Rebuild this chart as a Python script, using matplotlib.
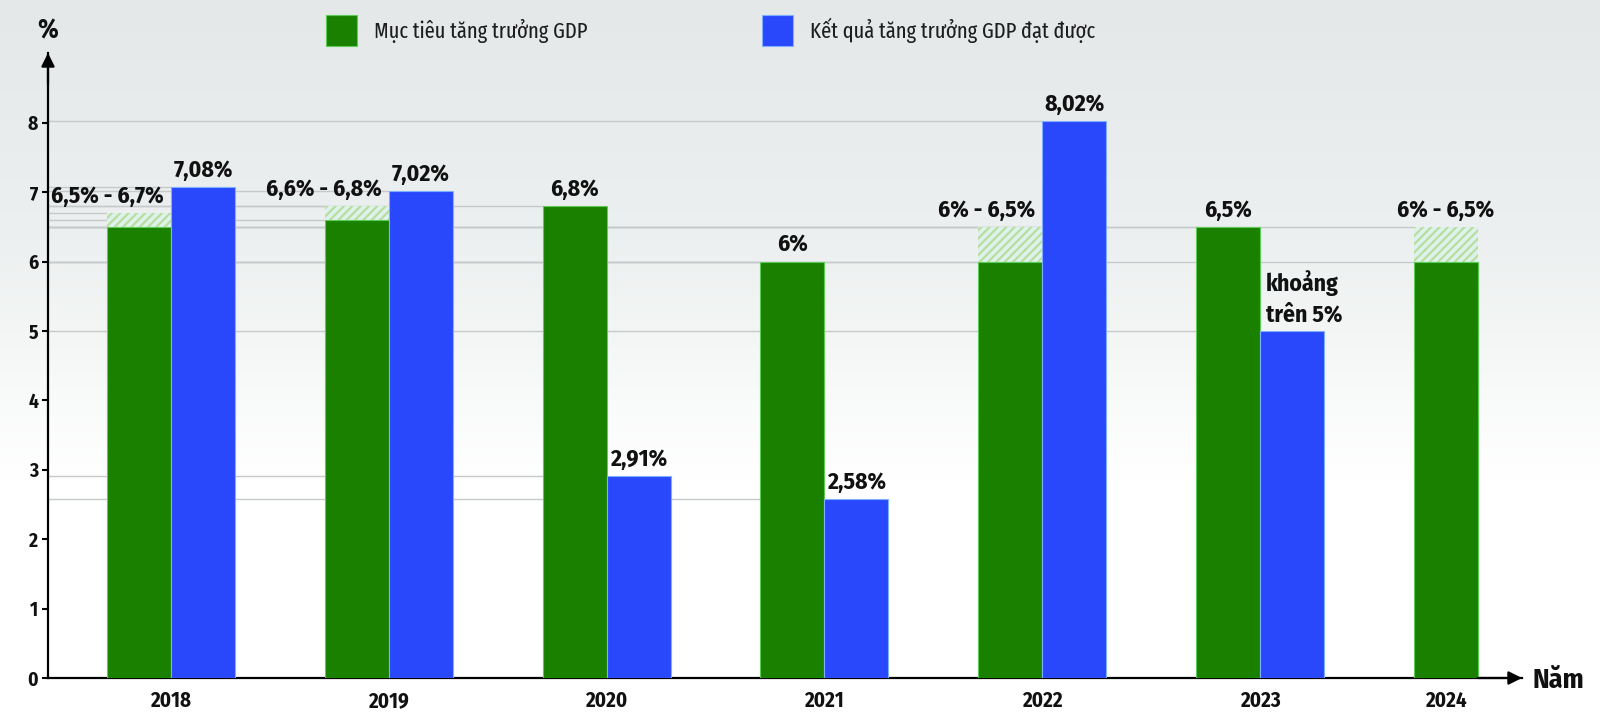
import numpy as np
import matplotlib
matplotlib.use('Agg')
import matplotlib.pyplot as plt
from matplotlib.colors import LinearSegmentedColormap

# Data
years = ['2018', '2019', '2020', '2021', '2022', '2023', '2024']
target_low = [6.5, 6.6, 6.8, 6.0, 6.0, 6.5, 6.0]
target_high = [6.7, 6.8, 6.8, 6.0, 6.5, 6.5, 6.5]
actual = [7.08, 7.02, 2.91, 2.58, 8.02, 5.0, np.nan]
target_labels = ['6,5% - 6,7%', '6,6% - 6,8%', '6,8%', '6%', '6% - 6,5%', '6,5%', '6% - 6,5%']
actual_labels = ['7,08%', '7,02%', '2,91%', '2,58%', '8,02%', 'khoảng\ntrên 5%', '']
legend_labels = ['Mục tiêu tăng trưởng GDP', 'Kết quả tăng trưởng GDP đạt được']
y_ticks = [0, 1, 2, 3, 4, 5, 6, 7, 8]

GREEN = '#1a8100'
BLUE = '#2947fb'
RANGE_FILL = '#dcf3ec'
RANGE_HATCH = '#bcdc9f'
REF_LINE = '#c6caca'
TXT = '#111111'

plt.rcParams['font.family'] = ['Fira Sans Condensed', 'DejaVu Sans']
plt.rcParams['hatch.linewidth'] = 1.6

fig = plt.figure(figsize=(16, 7.21), dpi=100)

# background gradient
bg = fig.add_axes([0, 0, 1, 1], zorder=0)
grad = np.linspace(0, 1, 256).reshape(-1, 1)
cmap = LinearSegmentedColormap.from_list('bg', ['#e4e8e8', '#edf0f0', '#ffffff', '#ffffff'])
bg.imshow(grad, aspect='auto', cmap=cmap, extent=[0, 1, 0, 1])
bg.axis('off')

ax = fig.add_axes([0.03, 43 / 721, 0.92125, 625 / 721], zorder=1)
ax.set_facecolor('none')

x = np.arange(len(years))
w = 0.294
low = np.array(target_low)
high = np.array(target_high)
act = np.array(actual)
has_act = ~np.isnan(act)

ax.set_xlim(-0.5647, 6.203)
ax.set_ylim(0, 9.006)
x0 = ax.get_xlim()[0]

# reference lines from the axis to each bar
for i in range(len(years)):
    for lv in set([low[i], high[i]]):
        ax.hlines(lv, x0, x[i] - w, color=REF_LINE, lw=1, zorder=1)
    if has_act[i]:
        ax.hlines(act[i], x0, x[i], color=REF_LINE, lw=1, zorder=1)

green = ax.bar(x - w / 2, low, w, color=GREEN, edgecolor='#5fcb57', linewidth=0.8, zorder=3)
ax.bar(x - w / 2, high - low, w, bottom=low, color=RANGE_FILL, linewidth=0, zorder=2)
ax.bar(x - w / 2, high - low, w, bottom=low, facecolor='none', edgecolor=RANGE_HATCH,
       hatch='////', linewidth=0, zorder=2)
blue = ax.bar(x[has_act] + w / 2, act[has_act], w, color=BLUE, edgecolor='#7fb0ff',
              linewidth=0.8, zorder=3)

# value labels
lab_kw = dict(textcoords='offset pixels', va='baseline', fontsize=17, fontweight='bold', color=TXT)
for i in range(len(years)):
    if high[i] > low[i] and has_act[i]:
        ax.annotate(target_labels[i], (x[i], high[i]), xytext=(-7, 10), ha='right', **lab_kw)
    else:
        ax.annotate(target_labels[i], (x[i] - w / 2, high[i]), xytext=(0, 10), ha='center', **lab_kw)
    if has_act[i]:
        if '\n' in actual_labels[i]:
            ax.annotate(actual_labels[i], (x[i], act[i]), xytext=(6, 10), ha='left',
                        linespacing=1.35, **lab_kw)
        else:
            ax.annotate(actual_labels[i], (x[i] + w / 2, act[i]), xytext=(0, 10), ha='center', **lab_kw)

# axes
for s in ['top', 'right']:
    ax.spines[s].set_visible(False)
ax.spines['left'].set_linewidth(1.6)
ax.spines['bottom'].set_linewidth(1.6)
ax.set_yticks(y_ticks)
ax.set_yticklabels([str(t) for t in y_ticks])
tick_pos = np.where(has_act, x, x - w / 2)
ax.set_xticks(tick_pos)
ax.set_xticklabels(years)
ax.tick_params(axis='y', direction='out', length=4, width=1.5, pad=3, labelsize=14)
ax.tick_params(axis='x', length=0, pad=9, labelsize=15)
for lab in ax.get_xticklabels() + ax.get_yticklabels():
    lab.set_fontweight('bold')
    lab.set_color(TXT)

arrow = dict(arrowstyle='-|>', color='black', lw=1.6, mutation_scale=20, shrinkA=0, shrinkB=0)
ax.annotate('', xy=(0, 1), xytext=(0, 0.95), xycoords='axes fraction', arrowprops=arrow)
ax.annotate('', xy=(1, 0), xytext=(0.97, 0), xycoords='axes fraction', arrowprops=arrow)
ax.annotate('%', xy=(0, 1), xycoords='axes fraction', xytext=(0, 22), textcoords='offset pixels',
            ha='center', va='center', fontsize=19, fontweight='bold', color=TXT)
ax.annotate('Năm', xy=(1, 0), xycoords='axes fraction', xytext=(11, -2), textcoords='offset pixels',
            ha='left', va='center', fontsize=20, fontweight='bold', color=TXT)

# legend: one entry per series, placed as in the reference
leg_font = dict(family=['Fira Sans Extra Condensed', 'DejaVu Sans'], weight='normal', size=16)
for handle, label, lx in [(green, legend_labels[0], 326), (blue, legend_labels[1], 762)]:
    fig.legend([handle], [label], loc='upper left', bbox_to_anchor=(lx / 1600, 1 - 15 / 721),
               frameon=False, prop=leg_font, handlelength=1.4, handleheight=1.75,
               handletextpad=0.75, borderpad=0, borderaxespad=0, labelcolor='#1e1e1e')

fig.savefig('out.png', dpi=100)
